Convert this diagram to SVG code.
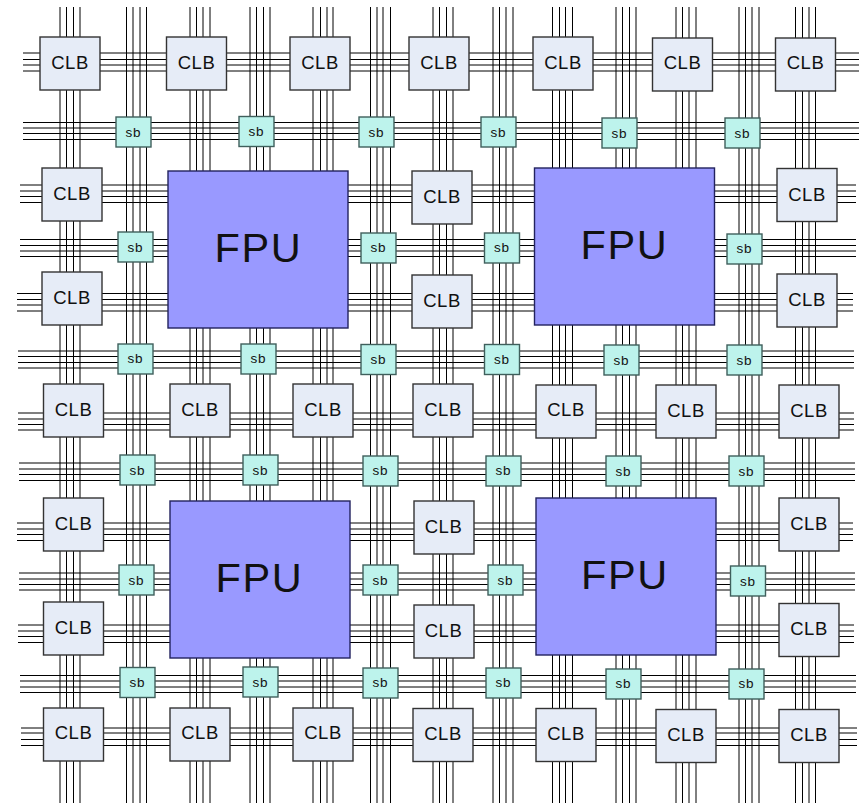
<svg xmlns="http://www.w3.org/2000/svg" width="862" height="804" viewBox="0 0 862 804">
<style>
.w{stroke:#000;stroke-width:1;fill:none}
.clb rect{fill:#e6ecf7;stroke:#333;stroke-width:1.4}
.sb rect{fill:#bdf3ec;stroke:#3f5f5c;stroke-width:1.4}
.fpu rect{fill:#9999ff;stroke:#22225e;stroke-width:1.4}
text{font-family:"Liberation Sans",Arial,sans-serif;fill:#111;text-anchor:middle}
.clb text{font-size:18.5px;letter-spacing:.5px}
.sb text{font-size:13.5px;letter-spacing:.8px}
.fpu text{font-size:41.5px;letter-spacing:1.6px}
</style>
<rect width="862" height="804" fill="#fff"/>
<g id="connectors" class="w">
<path d="M60 7V803M66.5 7V803M73.5 7V803M80 7V803M126.5 7V803M133 7V803M140 7V803M146.5 7V803M190 7V803M196.5 7V803M203 7V803M210 7V803M250 7V803M256.5 7V803M263.5 7V803M270 7V803M313 7V803M320.5 7V803M327 7V803M333 7V803M370.5 7V803M377 7V803M383 7V803M390.5 7V803M433 7V803M439.5 7V803M446.5 7V803M453 7V803M493 7V803M499.5 7V803M506 7V803M513 7V803M552.5 7V803M559.5 7V803M565.5 7V803M572.5 7V803M616 7V803M622.5 7V803M629.5 7V803M636 7V803M676 7V803M682.5 7V803M689 7V803M696 7V803M739 7V803M745.5 7V803M752 7V803M759 7V803M795.5 7V803M802.5 7V803M809 7V803M815.5 7V803"/>
<path d="M23 53H859M23 59.5H859M23 65H859M23 71H859M23 122.5H859M23 128H859M23 133.5H859M23 139.5H859M20 185H856M20 191H856M20 196.5H856M20 202.5H856M20 239.5H856M20 245.5H856M20 251H856M20 256.5H856M17 293.5H853M17 299.5H853M17 305H853M17 311H853M18 351H854M18 356.5H854M18 362.5H854M18 368H854M18 413H854M18 419H854M18 424.5H854M18 430H854M19 463H855M19 469H855M19 474.5H855M19 480.5H855M17 523H853M17 529H853M17 534.5H853M17 540.5H853M19 573H855M19 579H855M19 584.5H855M19 590H855M18 625H854M18 631H854M18 636.5H854M18 642.5H854M20 675.5H856M20 681H856M20 687H856M20 692.5H856M21 728H857M21 733H857M21 739.5H857M21 745.5H857"/>
</g>
<g id="clb-1-1" class="clb"><rect x="40" y="37" width="60" height="53"/><text x="70" y="69">CLB</text></g>
<g id="clb-1-2" class="clb"><rect x="166.500" y="37" width="60" height="53"/><text x="196.500" y="69">CLB</text></g>
<g id="clb-1-3" class="clb"><rect x="290" y="37" width="60" height="53"/><text x="320" y="69">CLB</text></g>
<g id="clb-1-4" class="clb"><rect x="409" y="37" width="60" height="53"/><text x="439" y="69">CLB</text></g>
<g id="clb-1-5" class="clb"><rect x="533" y="37" width="60" height="53"/><text x="563" y="69">CLB</text></g>
<g id="clb-1-6" class="clb"><rect x="652.500" y="38" width="60" height="53"/><text x="682.500" y="69">CLB</text></g>
<g id="clb-1-7" class="clb"><rect x="775.500" y="38" width="60" height="53"/><text x="805.500" y="69">CLB</text></g>
<g id="sb-2-1" class="sb"><rect x="116" y="117" width="35" height="30"/><text x="133.500" y="136.500">sb</text></g>
<g id="sb-2-2" class="sb"><rect x="239" y="116.500" width="35" height="30"/><text x="256.500" y="136">sb</text></g>
<g id="sb-2-3" class="sb"><rect x="359" y="117" width="35" height="30"/><text x="376.500" y="136.500">sb</text></g>
<g id="sb-2-4" class="sb"><rect x="481" y="117" width="35" height="30"/><text x="498.500" y="136.500">sb</text></g>
<g id="sb-2-5" class="sb"><rect x="602" y="118" width="35" height="30"/><text x="619.500" y="137.500">sb</text></g>
<g id="sb-2-6" class="sb"><rect x="725" y="118" width="35" height="30"/><text x="742.500" y="137.500">sb</text></g>
<g id="clb-3-1" class="clb"><rect x="42" y="168" width="60" height="53"/><text x="72" y="200">CLB</text></g>
<g id="fpu-1" class="fpu"><rect x="168" y="171" width="180" height="157"/><text x="258.500" y="262">FPU</text></g>
<g id="clb-3-4" class="clb"><rect x="412" y="171" width="60" height="53"/><text x="442" y="203">CLB</text></g>
<g id="fpu-2" class="fpu"><rect x="534.500" y="168" width="180" height="157"/><text x="624.500" y="259">FPU</text></g>
<g id="clb-3-7" class="clb"><rect x="777" y="168.500" width="60" height="53"/><text x="807" y="200.500">CLB</text></g>
<g id="sb-4-1" class="sb"><rect x="118" y="232" width="35" height="30"/><text x="135.500" y="251.500">sb</text></g>
<g id="sb-4-3" class="sb"><rect x="361" y="233" width="35" height="30"/><text x="378.500" y="252">sb</text></g>
<g id="sb-4-4" class="sb"><rect x="484.500" y="233" width="35" height="30"/><text x="502" y="252">sb</text></g>
<g id="sb-4-6" class="sb"><rect x="727" y="234" width="35" height="30"/><text x="744.500" y="253">sb</text></g>
<g id="clb-5-1" class="clb"><rect x="42" y="272" width="60" height="53"/><text x="72" y="303.500">CLB</text></g>
<g id="clb-5-4" class="clb"><rect x="412" y="275" width="60" height="53"/><text x="442" y="306.500">CLB</text></g>
<g id="clb-5-7" class="clb"><rect x="777" y="274" width="60" height="53"/><text x="807" y="305.500">CLB</text></g>
<g id="sb-6-1" class="sb"><rect x="118" y="344" width="35" height="30"/><text x="135.500" y="363">sb</text></g>
<g id="sb-6-2" class="sb"><rect x="241" y="344" width="35" height="30"/><text x="258.500" y="363">sb</text></g>
<g id="sb-6-3" class="sb"><rect x="361" y="344.500" width="35" height="30"/><text x="378.500" y="364">sb</text></g>
<g id="sb-6-4" class="sb"><rect x="484.500" y="344.500" width="35" height="30"/><text x="502" y="364">sb</text></g>
<g id="sb-6-5" class="sb"><rect x="604" y="345" width="35" height="30"/><text x="621.500" y="364.500">sb</text></g>
<g id="sb-6-6" class="sb"><rect x="727" y="345" width="35" height="30"/><text x="744.500" y="364.500">sb</text></g>
<g id="clb-7-1" class="clb"><rect x="43.500" y="384" width="60" height="53"/><text x="73.500" y="415.500">CLB</text></g>
<g id="clb-7-2" class="clb"><rect x="170" y="384" width="60" height="53"/><text x="200" y="415.500">CLB</text></g>
<g id="clb-7-3" class="clb"><rect x="293" y="384" width="60" height="53"/><text x="323" y="415.500">CLB</text></g>
<g id="clb-7-4" class="clb"><rect x="413" y="384" width="60" height="53"/><text x="443" y="415.500">CLB</text></g>
<g id="clb-7-5" class="clb"><rect x="536" y="385" width="60" height="53"/><text x="566" y="416">CLB</text></g>
<g id="clb-7-6" class="clb"><rect x="656" y="385" width="60" height="53"/><text x="686" y="416.500">CLB</text></g>
<g id="clb-7-7" class="clb"><rect x="779" y="385" width="60" height="53"/><text x="809" y="416.500">CLB</text></g>
<g id="sb-8-1" class="sb"><rect x="120" y="455" width="35" height="30"/><text x="137.500" y="474.500">sb</text></g>
<g id="sb-8-2" class="sb"><rect x="243" y="455" width="35" height="30"/><text x="260.500" y="474.500">sb</text></g>
<g id="sb-8-3" class="sb"><rect x="363" y="456" width="35" height="30"/><text x="380.500" y="475">sb</text></g>
<g id="sb-8-4" class="sb"><rect x="486" y="456" width="35" height="30"/><text x="503.500" y="475">sb</text></g>
<g id="sb-8-5" class="sb"><rect x="606" y="456" width="35" height="30"/><text x="623.500" y="475.500">sb</text></g>
<g id="sb-8-6" class="sb"><rect x="729" y="456" width="35" height="30"/><text x="746.500" y="475.500">sb</text></g>
<g id="clb-9-1" class="clb"><rect x="43.500" y="498" width="60" height="53"/><text x="73.500" y="529.500">CLB</text></g>
<g id="fpu-3" class="fpu"><rect x="170" y="501" width="180" height="157"/><text x="259.500" y="592">FPU</text></g>
<g id="clb-9-4" class="clb"><rect x="414" y="501" width="60" height="53"/><text x="443.500" y="532.500">CLB</text></g>
<g id="fpu-4" class="fpu"><rect x="536" y="498" width="180" height="157"/><text x="625" y="589">FPU</text></g>
<g id="clb-9-7" class="clb"><rect x="779" y="498" width="60" height="53"/><text x="809" y="529.500">CLB</text></g>
<g id="sb-10-1" class="sb"><rect x="119" y="565" width="35" height="30"/><text x="136.500" y="584.500">sb</text></g>
<g id="sb-10-3" class="sb"><rect x="363" y="565" width="35" height="30"/><text x="380.500" y="584.500">sb</text></g>
<g id="sb-10-4" class="sb"><rect x="488" y="565" width="35" height="30"/><text x="505.500" y="584.500">sb</text></g>
<g id="sb-10-6" class="sb"><rect x="730.500" y="566" width="35" height="30"/><text x="748" y="585.500">sb</text></g>
<g id="clb-11-1" class="clb"><rect x="43.500" y="602" width="60" height="53"/><text x="73.500" y="633.500">CLB</text></g>
<g id="clb-11-4" class="clb"><rect x="414" y="605" width="60" height="53"/><text x="443.500" y="636.500">CLB</text></g>
<g id="clb-11-7" class="clb"><rect x="779" y="603.500" width="60" height="53"/><text x="809" y="635">CLB</text></g>
<g id="sb-12-1" class="sb"><rect x="120" y="667.500" width="35" height="30"/><text x="137.500" y="687">sb</text></g>
<g id="sb-12-2" class="sb"><rect x="243" y="667" width="35" height="30"/><text x="260.500" y="686.500">sb</text></g>
<g id="sb-12-3" class="sb"><rect x="363" y="668" width="35" height="30"/><text x="380.500" y="687">sb</text></g>
<g id="sb-12-4" class="sb"><rect x="486" y="668" width="35" height="30"/><text x="503.500" y="687">sb</text></g>
<g id="sb-12-5" class="sb"><rect x="606" y="669" width="35" height="30"/><text x="623.500" y="688">sb</text></g>
<g id="sb-12-6" class="sb"><rect x="729" y="669" width="35" height="30"/><text x="746.500" y="688">sb</text></g>
<g id="clb-13-1" class="clb"><rect x="43.500" y="708" width="60" height="53"/><text x="73.500" y="739">CLB</text></g>
<g id="clb-13-2" class="clb"><rect x="170" y="708" width="60" height="53"/><text x="200" y="739">CLB</text></g>
<g id="clb-13-3" class="clb"><rect x="293" y="708" width="60" height="53"/><text x="323" y="739">CLB</text></g>
<g id="clb-13-4" class="clb"><rect x="413" y="708.500" width="60" height="53"/><text x="443" y="739.500">CLB</text></g>
<g id="clb-13-5" class="clb"><rect x="536" y="708.500" width="60" height="53"/><text x="566" y="739.500">CLB</text></g>
<g id="clb-13-6" class="clb"><rect x="656" y="709.500" width="60" height="53"/><text x="686" y="740.500">CLB</text></g>
<g id="clb-13-7" class="clb"><rect x="779" y="709.500" width="60" height="53"/><text x="809" y="740.500">CLB</text></g>
</svg>
